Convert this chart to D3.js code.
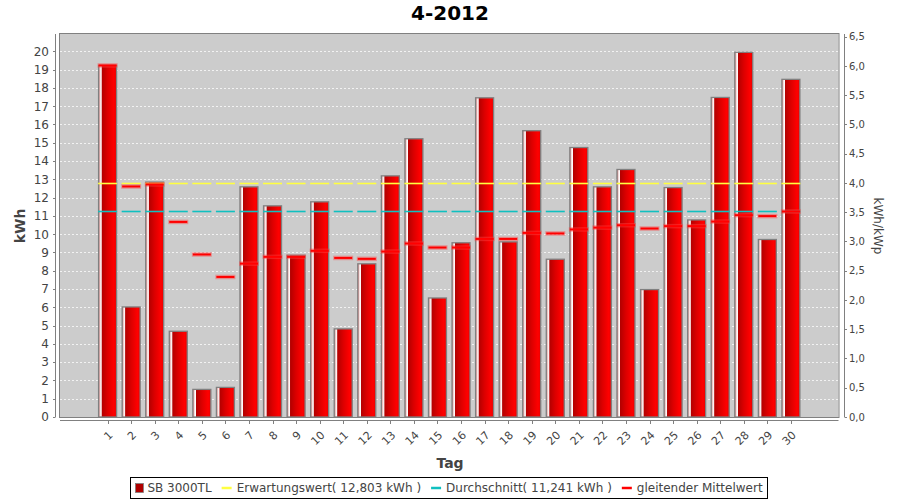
<!DOCTYPE html>
<html><head><meta charset="utf-8">
<script src="https://cdn.jsdelivr.net/npm/d3@7"></script>
<style>body{margin:0;background:#fff;} text{font-family:"DejaVu Sans",sans-serif;}</style>
</head><body><svg id="c" width="900" height="500"></svg>
<script>
const days = ["1","2","3","4","5","6","7","8","9","10","11","12","13","14","15","16","17","18","19","20","21","22","23","24","25","26","27","28","29","30"];
const production = [19.23, 6.02, 12.85, 4.69, 1.51, 1.62, 12.59, 11.55, 8.85, 11.77, 4.82, 8.38, 13.19, 15.22, 6.51, 9.53, 17.46, 9.58, 15.66, 8.63, 14.74, 12.59, 13.54, 6.97, 12.55, 10.78, 17.48, 19.95, 9.71, 18.47];
const movingAvg = [19.23, 12.61, 12.72, 10.67, 8.89, 7.66, 8.39, 8.76, 8.76, 9.09, 8.70, 8.65, 9.05, 9.49, 9.27, 9.27, 9.74, 9.74, 10.07, 10.04, 10.26, 10.36, 10.49, 10.31, 10.44, 10.44, 10.69, 11.04, 10.99, 11.24];
const expectation = 12.803;
const average = 11.241;
const kWp = 3.2;
const leftTicks = [0,1,2,3,4,5,6,7,8,9,10,11,12,13,14,15,16,17,18,19,20];
const rightTicks = [0,0.5,1,1.5,2,2.5,3,3.5,4,4.5,5,5.5,6,6.5];
const legendItems = ["SB 3000TL", "Erwartungswert( 12,803 kWh )", "Durchschnitt( 11,241 kWh )", "gleitender Mittelwert"];
const legendColors = ["#b00000", "#ffff40", "#10c0c0", "#ff0000"];
const title = "4-2012";

const svg = d3.select("#c");
const L = 60, R = 838.5, T = 34, B = 417;
const leftMax = 20.95;

const x = d3.scalePoint().domain(days).range([L, R]).padding(2.02);
const y = d3.scaleLinear().domain([0, leftMax]).range([B, T]);
const y2 = d3.scaleLinear().domain([0, leftMax / kWp]).range([B, T]);

const defs = svg.append("defs");
const g = defs.append("linearGradient").attr("id","barg").attr("x1","0").attr("x2","1").attr("y1","0").attr("y2","0");
[[0,"#d27070"],[0.09,"#f4dede"],[0.15,"#ffffff"],[0.19,"#b40000"],[0.5,"#dc0000"],[0.85,"#ff0000"],[1,"#e80000"]]
  .forEach(s => g.append("stop").attr("offset", s[0]).attr("stop-color", s[1]));

// title
svg.append("text").attr("x", 450).attr("y", 20).attr("text-anchor","middle")
  .attr("font-size", 20).attr("font-weight","bold").attr("fill","#000").text(title);

// plot background
svg.append("rect").attr("x", L).attr("y", T).attr("width", R - L).attr("height", B - T).attr("fill", "#cccccc");

// grid
svg.append("g").selectAll("line").data(leftTicks.filter(d => d > 0)).join("line")
  .attr("x1", L).attr("x2", R).attr("y1", d => Math.round(y(d)) + 0.5).attr("y2", d => Math.round(y(d)) + 0.5)
  .attr("stroke", "#f2f2f2").attr("stroke-width", 1).attr("stroke-dasharray", "2,2");

// bars
const bw = 18;
const bars = svg.append("g");
bars.selectAll("rect").data(production).join("rect")
  .attr("x", (d,i) => x(days[i]) - bw/2).attr("y", d => y(d))
  .attr("width", bw).attr("height", d => B - y(d))
  .attr("fill", "url(#barg)").attr("stroke", "#808080").attr("stroke-width", 1.3);

// expectation & average segments
const segLen = 19;
function segs(val, color) {
  svg.append("g").selectAll("line").data(days).join("line")
    .attr("x1", d => x(d) - segLen/2).attr("x2", d => x(d) + segLen/2)
    .attr("y1", Math.round(y(val)) + 0.5).attr("y2", Math.round(y(val)) + 0.5)
    .attr("stroke", color).attr("stroke-width", 1.6);
}
segs(expectation, legendColors[1]);
segs(average, legendColors[2]);

// moving average
const ma = svg.append("g");
ma.selectAll("line.glow").data(movingAvg).join("line").attr("class","glow")
  .attr("x1", (d,i) => x(days[i]) - 10).attr("x2", (d,i) => x(days[i]) + 10)
  .attr("y1", d => y(d)).attr("y2", d => y(d))
  .attr("stroke", "#ff4040").attr("stroke-opacity", 0.45).attr("stroke-width", 4.5);
ma.selectAll("line.core").data(movingAvg).join("line").attr("class","core")
  .attr("x1", (d,i) => x(days[i]) - 9).attr("x2", (d,i) => x(days[i]) + 9)
  .attr("y1", d => y(d)).attr("y2", d => y(d))
  .attr("stroke", "#ff0000").attr("stroke-width", 2);

// plot border
svg.append("rect").attr("x", L - 0.5).attr("y", T - 0.5).attr("width", R - L + 1).attr("height", B - T + 1)
  .attr("fill", "none").attr("stroke", "#808080").attr("stroke-width", 1);

// left axis
const la = svg.append("g");
la.append("line").attr("x1", 55.5).attr("x2", 55.5).attr("y1", T).attr("y2", B).attr("stroke", "#808080");
la.selectAll("line.t").data(leftTicks).join("line").attr("class","t")
  .attr("x1", 53).attr("x2", 55.5).attr("y1", d => Math.round(y(d)) + 0.5).attr("y2", d => Math.round(y(d)) + 0.5).attr("stroke", "#808080");
la.selectAll("text").data(leftTicks).join("text")
  .attr("x", 49).attr("y", d => y(d)).attr("dy", "0.36em").attr("text-anchor", "end")
  .attr("font-size", 12).attr("fill", "#444").text(d => d);
svg.append("text").attr("transform", "translate(25,226) rotate(-90)").attr("text-anchor","middle")
  .attr("font-size", 14).attr("font-weight","bold").attr("fill","#444").text("kWh");

// right axis
const ra = svg.append("g");
ra.append("line").attr("x1", 844.5).attr("x2", 844.5).attr("y1", T).attr("y2", B).attr("stroke", "#808080");
ra.selectAll("line.t").data(rightTicks).join("line").attr("class","t")
  .attr("x1", 844.5).attr("x2", 847).attr("y1", d => Math.round(y2(d)) + 0.5).attr("y2", d => Math.round(y2(d)) + 0.5).attr("stroke", "#808080");
ra.selectAll("text").data(rightTicks).join("text")
  .attr("x", 849).attr("y", d => y2(d)).attr("dy", "0.36em")
  .attr("font-size", 10).attr("fill", "#444").text(d => d.toFixed(1).replace(".", ","));
svg.append("text").attr("transform", "translate(874,226) rotate(90)").attr("text-anchor","middle")
  .attr("font-size", 12).attr("fill","#444").text("kWh/kWp");

// x axis
const xa = svg.append("g");
xa.append("line").attr("x1", L).attr("x2", R).attr("y1", 420.5).attr("y2", 420.5).attr("stroke", "#808080");
xa.selectAll("line.t").data(days).join("line").attr("class","t")
  .attr("x1", d => Math.round(x(d)) + 0.5).attr("x2", d => Math.round(x(d)) + 0.5).attr("y1", 420.5).attr("y2", 424).attr("stroke", "#808080");
xa.selectAll("text").data(days).join("text")
  .attr("transform", d => `translate(${x(d) + 3},433) rotate(-45)`)
  .attr("text-anchor", "end").attr("dy", "0.36em")
  .attr("font-size", 11).attr("fill", "#444").text(d => d);
svg.append("text").attr("x", 450).attr("y", 468).attr("text-anchor","middle")
  .attr("font-size", 14).attr("font-weight","bold").attr("fill","#444").text("Tag");

// legend
const lg = svg.append("g");
const box = lg.append("rect").attr("fill", "#fff").attr("stroke", "#000").attr("stroke-width", 1);
let cx = 0;
const items = lg.append("g");
legendItems.forEach((t, i) => {
  if (i === 0) {
    items.append("rect").attr("x", cx).attr("y", -4.5).attr("width", 8).attr("height", 9)
      .attr("fill", legendColors[0]).attr("stroke", "#808080").attr("stroke-width", 0.8);
    cx += 12;
  } else {
    items.append("line").attr("x1", cx).attr("x2", cx + 10).attr("y1", 0).attr("y2", 0)
      .attr("stroke", legendColors[i]).attr("stroke-width", 2.5);
    cx += 15;
  }
  const tx = items.append("text").attr("x", cx).attr("y", 0).attr("dy", "0.36em")
    .attr("font-size", 12).attr("fill", "#444").text(t);
  cx += tx.node().getComputedTextLength() + 10;
});
cx -= 10;
const lw = cx + 10;
const lx = 449 - lw / 2;
items.attr("transform", `translate(${lx + 5},488)`);
box.attr("x", Math.round(lx) + 0.5).attr("y", 477.5).attr("width", Math.round(lw)).attr("height", 21);
</script></body></html>
